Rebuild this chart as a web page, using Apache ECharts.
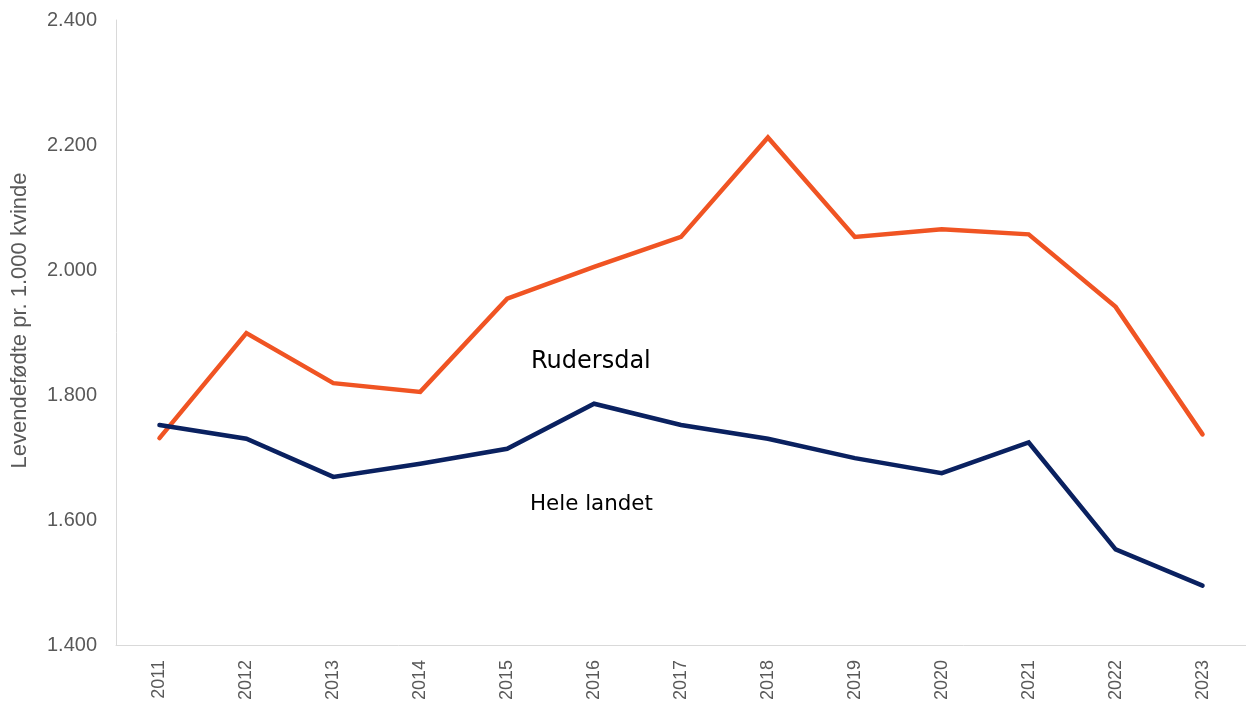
<!DOCTYPE html>
<html><head><meta charset="utf-8">
<script src="https://cdn.jsdelivr.net/npm/echarts@6/dist/echarts.min.js"></script>
<style>html,body{margin:0;padding:0;background:#fff}#c{width:1246px;height:704px}</style>
</head><body><div id="c"></div>
<script>
const years = ['2011','2012','2013','2014','2015','2016','2017','2018','2019','2020','2021','2022','2023'];
const rudersdal = [1731,1899,1819,1805,1954,2005,2053,2212,2053,2065,2057,1941,1737];
const heleLandet = [1752,1730,1669,1690,1714,1786,1752,1730,1699,1675,1724,1553,1495];
const yTicks = {min:1400, max:2400, interval:200};
const yName = 'Levendefødte pr. 1.000 kvinde';

function fmt(v){ return String(v).replace(/\B(?=(\d{3})+(?!\d))/g,'.'); }

const chart = echarts.init(document.getElementById('c'));
chart.setOption({
  animation:false,
  backgroundColor:'#fff',
  grid:{left:116, top:20, width:1132, height:625},
  xAxis:{type:'category', data:years, boundaryGap:true,
    axisLine:{lineStyle:{color:'#d9d9d9', width:1}},
    axisTick:{show:false},
    axisLabel:{rotate:90, color:'#595959', fontFamily:'Liberation Sans, Arial', fontSize:18, margin:15}},
  yAxis:{type:'value', min:yTicks.min, max:yTicks.max, interval:yTicks.interval,
    name:yName, nameLocation:'middle', nameGap:85,
    nameTextStyle:{color:'#595959', fontFamily:'Liberation Sans, Arial', fontSize:22, padding:[0,0,0,24]},
    axisLine:{show:true, lineStyle:{color:'#d9d9d9', width:1}},
    axisTick:{show:false}, splitLine:{show:false},
    axisLabel:{color:'#595959', fontFamily:'Liberation Sans, Arial', fontSize:20, margin:19, formatter:fmt}},
  series:[
    {name:'Rudersdal', type:'line', data:rudersdal, symbol:'none', lineStyle:{color:'#F05423', width:4.5, cap:'round', join:'miter'}},
    {name:'Hele landet', type:'line', data:heleLandet, symbol:'none', lineStyle:{color:'#0A2160', width:4.5, cap:'round', join:'miter'}}
  ],
  graphic:[
    {type:'text', left:531, top:350, style:{text:'Rudersdal', fill:'#000', font:'24px "DejaVu Sans", Verdana, sans-serif'}},
    {type:'text', left:530, top:494, style:{text:'Hele landet', fill:'#000', font:'21.4px "DejaVu Sans", Verdana, sans-serif'}}
  ]
});
</script></body></html>
